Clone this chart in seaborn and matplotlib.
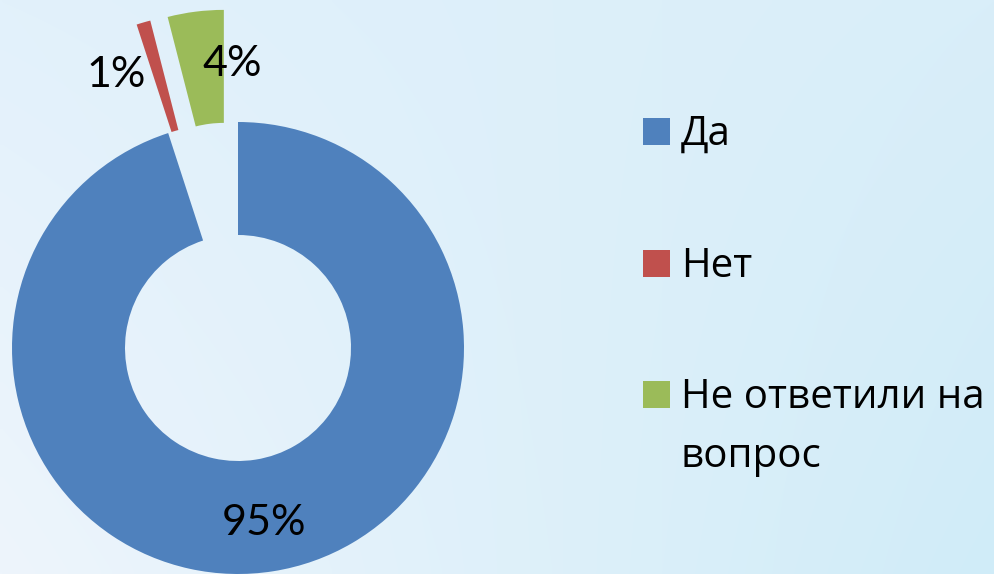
import numpy as np
import matplotlib
matplotlib.use("Agg")
import matplotlib.pyplot as plt
import seaborn as sns
from matplotlib.patches import Rectangle

# Data
categories = ["Да", "Нет", "Не ответили на\nвопрос"]
values = [95, 1, 4]
pct_labels = ["95%", "1%", "4%"]
colors = ["#4F81BD", "#C0504D", "#9BBB59"]

sns.set_theme(style="white")
plt.rcParams["font.family"] = ["Lato", "DejaVu Sans"]

W, H = 995, 574
fig = plt.figure(figsize=(W / 100, H / 100), dpi=100)

# background gradient
bg = fig.add_axes([0, 0, 1, 1], zorder=0)
tl = np.array([0xE2, 0xF1, 0xFB]) / 255
tr = np.array([0xD9, 0xEE, 0xF9]) / 255
bl = np.array([0xEE, 0xF5, 0xFC]) / 255
br = np.array([0xD0, 0xEC, 0xF8]) / 255
u = np.linspace(0, 1, 200)[None, :, None]
v = np.linspace(0, 1, 120)[:, None, None]
img = (1 - v) * ((1 - u) * tl + u * tr) + v * ((1 - u) * bl + u * br)
bg.imshow(img, aspect="auto", extent=[0, 1, 0, 1], interpolation="bilinear")
bg.set_axis_off()

ax = fig.add_axes([0, 0, 1, 1], zorder=1)
ax.patch.set_alpha(0)
R_px = 226.0
cx, cy = 238.0, 348.0

wedges, _ = ax.pie(
    values,
    colors=colors,
    startangle=90,
    counterclock=False,
    explode=[0, 0.5, 0.5],
    radius=1.0,
    wedgeprops=dict(width=0.5, linewidth=0),
)
ax.set_xlim(-cx / R_px, (W - cx) / R_px)
ax.set_ylim(-(H - cy) / R_px, cy / R_px)
ax.set_aspect("equal")
ax.set_axis_off()

# percentage labels (positions in data units of the pie)
label_pos = [(0.115, -0.775), (-0.54, 1.21), (-0.025, 1.255)]
for txt, (x, y) in zip(pct_labels, label_pos):
    ax.text(x, y, txt, ha="center", va="center", fontsize=31, color="black")

# legend (baselines in pixels from top)
rows_base = [145, 277, 408]
line_gap = 59
for cat, col, yb in zip(categories, colors, rows_base):
    fig.patches.append(Rectangle((643 / W, 1 - yb / H), 27 / W, 27 / H,
                                 transform=fig.transFigure, facecolor=col,
                                 edgecolor="none", zorder=3))
    for i, line in enumerate(cat.split("\n")):
        fig.text(681 / W, 1 - (yb + i * line_gap) / H, line, ha="left",
                 va="baseline", fontsize=29, color="black", zorder=3,
                 family=["Open Sans", "DejaVu Sans"])

fig.savefig("out.png", dpi=100)
